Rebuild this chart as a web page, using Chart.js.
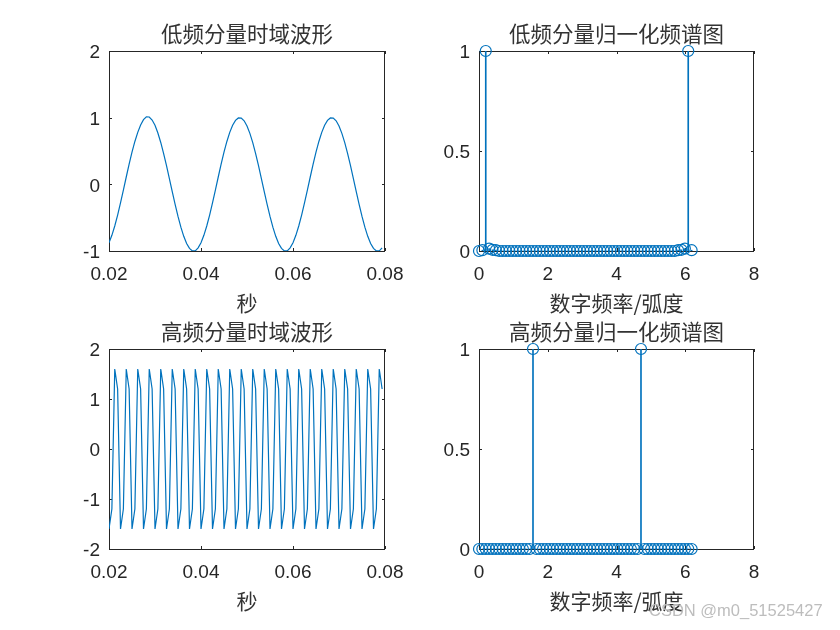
<!DOCTYPE html>
<html>
<head>
<meta charset="utf-8">
<script src="https://cdn.jsdelivr.net/npm/chart.js@4.4.1/dist/chart.umd.min.js"></script>
<style>
  html, body { margin: 0; padding: 0; background: #fff; }
  #page { position: relative; width: 840px; height: 630px; overflow: hidden; background: #fff; }
  canvas { position: absolute; }
  #mark { position: absolute; left: 649px; top: 601px; line-height: 20px;
          font: 16.5px "Liberation Sans", Arial, sans-serif; color: #bdbdbd; white-space: nowrap; }
</style>
</head>
<body>
<div id="page">
  <canvas id="lowTime" width="396" height="300" style="left:49px;top:21px"></canvas>
  <canvas id="lowSpecChart" width="395" height="300" style="left:419px;top:21px"></canvas>
  <canvas id="highTime" width="396" height="300" style="left:49px;top:319px"></canvas>
  <canvas id="highSpecChart" width="395" height="300" style="left:419px;top:319px"></canvas>
  <div id="mark">CSDN @m0_51525427</div>
</div>
<script>
// sample times (s), 96 samples
const timeS = [
  0.020000, 0.020625, 0.021250, 0.021875,
  0.022500, 0.023125, 0.023750, 0.024375,
  0.025000, 0.025625, 0.026250, 0.026875,
  0.027500, 0.028125, 0.028750, 0.029375,
  0.030000, 0.030625, 0.031250, 0.031875,
  0.032500, 0.033125, 0.033750, 0.034375,
  0.035000, 0.035625, 0.036250, 0.036875,
  0.037500, 0.038125, 0.038750, 0.039375,
  0.040000, 0.040625, 0.041250, 0.041875,
  0.042500, 0.043125, 0.043750, 0.044375,
  0.045000, 0.045625, 0.046250, 0.046875,
  0.047500, 0.048125, 0.048750, 0.049375,
  0.050000, 0.050625, 0.051250, 0.051875,
  0.052500, 0.053125, 0.053750, 0.054375,
  0.055000, 0.055625, 0.056250, 0.056875,
  0.057500, 0.058125, 0.058750, 0.059375,
  0.060000, 0.060625, 0.061250, 0.061875,
  0.062500, 0.063125, 0.063750, 0.064375,
  0.065000, 0.065625, 0.066250, 0.066875,
  0.067500, 0.068125, 0.068750, 0.069375,
  0.070000, 0.070625, 0.071250, 0.071875,
  0.072500, 0.073125, 0.073750, 0.074375,
  0.075000, 0.075625, 0.076250, 0.076875,
  0.077500, 0.078125, 0.078750, 0.079375
];

// low frequency component
const lowWave = [
  -0.876, -0.765, -0.625, -0.461, -0.279, -0.086, 0.110, 0.302,
  0.482, 0.643, 0.780, 0.890, 0.970, 1.012, 1.010, 0.965,
  0.885, 0.770, 0.628, 0.462, 0.279, 0.086, -0.110, -0.302,
  -0.482, -0.643, -0.780, -0.887, -0.960, -0.999, -0.998, -0.953,
  -0.876, -0.765, -0.625, -0.461, -0.279, -0.086, 0.110, 0.302,
  0.482, 0.643, 0.780, 0.887, 0.960, 0.996, 0.994, 0.953,
  0.876, 0.765, 0.625, 0.461, 0.279, 0.086, -0.110, -0.302,
  -0.482, -0.643, -0.780, -0.887, -0.960, -0.999, -0.998, -0.953,
  -0.876, -0.765, -0.625, -0.461, -0.279, -0.086, 0.110, 0.302,
  0.482, 0.643, 0.780, 0.887, 0.960, 0.996, 0.994, 0.953,
  0.876, 0.765, 0.625, 0.461, 0.279, 0.086, -0.110, -0.302,
  -0.482, -0.643, -0.780, -0.887, -0.960, -0.999, -0.998, -0.953
];

// high frequency component
const highWave = [
  -1.6, -1.2, 1.6, 1.2, -1.6, -1.2, 1.6, 1.2, -1.6, -1.2, 1.6, 1.2,
  -1.6, -1.2, 1.6, 1.2, -1.6, -1.2, 1.6, 1.2, -1.6, -1.2, 1.6, 1.2,
  -1.6, -1.2, 1.6, 1.2, -1.6, -1.2, 1.6, 1.2, -1.6, -1.2, 1.6, 1.2,
  -1.6, -1.2, 1.6, 1.2, -1.6, -1.2, 1.6, 1.2, -1.6, -1.2, 1.6, 1.2,
  -1.6, -1.2, 1.6, 1.2, -1.6, -1.2, 1.6, 1.2, -1.6, -1.2, 1.6, 1.2,
  -1.6, -1.2, 1.6, 1.2, -1.6, -1.2, 1.6, 1.2, -1.6, -1.2, 1.6, 1.2,
  -1.6, -1.2, 1.6, 1.2, -1.6, -1.2, 1.6, 1.2, -1.6, -1.2, 1.6, 1.2,
  -1.6, -1.2, 1.6, 1.2, -1.6, -1.2, 1.6, 1.2, -1.6, -1.2, 1.6, 1.2
];

// digital frequency (rad), 64 bins
const freqRad = [
  0.0000, 0.0982, 0.1963, 0.2945, 0.3927, 0.4909, 0.5890, 0.6872,
  0.7854, 0.8836, 0.9817, 1.0799, 1.1781, 1.2763, 1.3744, 1.4726,
  1.5708, 1.6690, 1.7671, 1.8653, 1.9635, 2.0617, 2.1598, 2.2580,
  2.3562, 2.4544, 2.5525, 2.6507, 2.7489, 2.8471, 2.9452, 3.0434,
  3.1416, 3.2398, 3.3379, 3.4361, 3.5343, 3.6325, 3.7306, 3.8288,
  3.9270, 4.0252, 4.1233, 4.2215, 4.3197, 4.4179, 4.5160, 4.6142,
  4.7124, 4.8106, 4.9087, 5.0069, 5.1051, 5.2033, 5.3014, 5.3996,
  5.4978, 5.5960, 5.6941, 5.7923, 5.8905, 5.9887, 6.0868, 6.1850
];

const lowSpec = [
  0, 0.004, 1, 0.012, 0.006, 0.004, 0, 0,
  0, 0, 0, 0, 0, 0, 0, 0,
  0, 0, 0, 0, 0, 0, 0, 0,
  0, 0, 0, 0, 0, 0, 0, 0,
  0, 0, 0, 0, 0, 0, 0, 0,
  0, 0, 0, 0, 0, 0, 0, 0,
  0, 0, 0, 0, 0, 0, 0, 0,
  0, 0, 0, 0.004, 0.006, 0.012, 1, 0.004
];

const highSpec = [
  0, 0, 0, 0, 0, 0, 0, 0,
  0, 0, 0, 0, 0, 0, 0, 0,
  1, 0, 0, 0, 0, 0, 0, 0,
  0, 0, 0, 0, 0, 0, 0, 0,
  0, 0, 0, 0, 0, 0, 0, 0,
  0, 0, 0, 0, 0, 0, 0, 0,
  1, 0, 0, 0, 0, 0, 0, 0,
  0, 0, 0, 0, 0, 0, 0, 0
];

// tick values and labels
const timeTicks = [0.02, 0.04, 0.06, 0.08];
const timeTickLabels = ['0.02', '0.04', '0.06', '0.08'];
const freqTicks = [0, 2, 4, 6, 8];
const freqTickLabels = ['0', '2', '4', '6', '8'];
const lowAmpTicks = [-1, 0, 1, 2];
const lowAmpLabels = ['-1', '0', '1', '2'];
const highAmpTicks = [-2, -1, 0, 1, 2];
const highAmpLabels = ['-2', '-1', '0', '1', '2'];
const specTicks = [0, 0.5, 1];
const specTickLabels = ['0', '0.5', '1'];

const BLUE = '#0072BD';
const INK = '#262626';
const tickFont = { family: '"Liberation Sans", Arial, sans-serif', size: 19 };
const cjk = '"Noto Sans CJK SC", "Noto Sans", sans-serif';

// MATLAB-like box with inward ticks on all four sides
const boxPlugin = {
  id: 'matlabBox',
  beforeDatasetsDraw(chart) {
    const { ctx, chartArea: a, scales: { x, y } } = chart;
    const len = 3;
    ctx.save();
    ctx.strokeStyle = INK;
    ctx.lineWidth = 1;
    ctx.beginPath();
    ctx.rect(a.left + 0.5, a.top + 0.5, a.right - a.left - 1, a.bottom - a.top);
    x.ticks.forEach(t => {
      const px = Math.round(x.getPixelForValue(t.value)) + 0.5;
      ctx.moveTo(px, a.bottom); ctx.lineTo(px, a.bottom - len);
      ctx.moveTo(px, a.top); ctx.lineTo(px, a.top + len);
    });
    y.ticks.forEach(t => {
      const py = Math.round(y.getPixelForValue(t.value)) + 0.5;
      ctx.moveTo(a.left, py); ctx.lineTo(a.left + len, py);
      ctx.moveTo(a.right, py); ctx.lineTo(a.right - len, py);
    });
    ctx.stroke();
    ctx.restore();
  }
};

function frame(o) {
  return {
    responsive: false,
    animation: false,
    events: [],
    layout: { padding: { left: 0, right: 60, top: 0, bottom: 0 } },
    plugins: {
      legend: { display: false },
      tooltip: { enabled: false },
      title: {
        display: true, fullSize: false, text: o.title, color: '#333',
        font: { family: cjk, size: 21.5, weight: 'normal', lineHeight: 1.2 },
        padding: { top: 0, bottom: 4.2 }
      }
    },
    scales: {
      x: {
        type: 'linear', min: o.xTicks[0], max: o.xTicks[o.xTicks.length - 1], offset: false,
        afterBuildTicks: s => { s.ticks = o.xTicks.map(v => ({ value: v })); },
        afterFit: s => { s.height = 70; s.paddingLeft = 0; s.paddingRight = 0; },
        grid: { display: false, drawTicks: false },
        border: { display: false },
        ticks: { color: INK, font: tickFont, padding: 12, maxRotation: 0, autoSkip: false,
                 callback: (v, i) => o.xLabels[i] },
        title: { display: true, text: o.xTitle, color: '#333',
                 font: { family: cjk, size: 21, weight: 'normal' }, padding: { top: 0, bottom: 5.4 } }
      },
      y: {
        type: 'linear', min: o.yTicks[0], max: o.yTicks[o.yTicks.length - 1],
        afterBuildTicks: s => { s.ticks = o.yTicks.map(v => ({ value: v })); },
        afterFit: s => { s.width = 60; s.paddingTop = 0; s.paddingBottom = 0; },
        grid: { display: false, drawTicks: false },
        border: { display: false },
        ticks: { color: INK, font: tickFont, padding: 9, labelOffset: 2, autoSkip: false,
                 callback: (v, i) => o.yLabels[i] }
      }
    }
  };
}

function waveChart(id, values, title, yTicks, yLabels) {
  new Chart(document.getElementById(id), {
    type: 'line',
    data: {
      datasets: [{
        data: timeS.map((t, i) => ({ x: t, y: values[i] })),
        borderColor: BLUE, borderWidth: 1.2, pointRadius: 0, tension: 0, fill: false
      }]
    },
    options: frame({ title, xTitle: '秒', xTicks: timeTicks, xLabels: timeTickLabels, yTicks, yLabels }),
    plugins: [boxPlugin]
  });
}

function stemChart(id, values, title) {
  const pts = freqRad.map((f, i) => ({ x: f, y: values[i] }));
  new Chart(document.getElementById(id), {
    type: 'bar',
    data: {
      datasets: [
        { type: 'line', data: pts, showLine: false, pointRadius: 5.5, pointBorderWidth: 1.2,
          pointBorderColor: BLUE, pointBackgroundColor: 'rgba(255,255,255,0)', clip: false },
        { type: 'bar', data: pts, backgroundColor: BLUE, borderWidth: 0, barThickness: 1 }
      ]
    },
    options: frame({ title, xTitle: '数字频率/弧度', xTicks: freqTicks, xLabels: freqTickLabels,
                     yTicks: specTicks, yLabels: specTickLabels }),
    plugins: [boxPlugin]
  });
}

waveChart('lowTime', lowWave, '低频分量时域波形', lowAmpTicks, lowAmpLabels);
stemChart('lowSpecChart', lowSpec, '低频分量归一化频谱图');
waveChart('highTime', highWave, '高频分量时域波形', highAmpTicks, highAmpLabels);
stemChart('highSpecChart', highSpec, '高频分量归一化频谱图');
</script>
</body>
</html>
